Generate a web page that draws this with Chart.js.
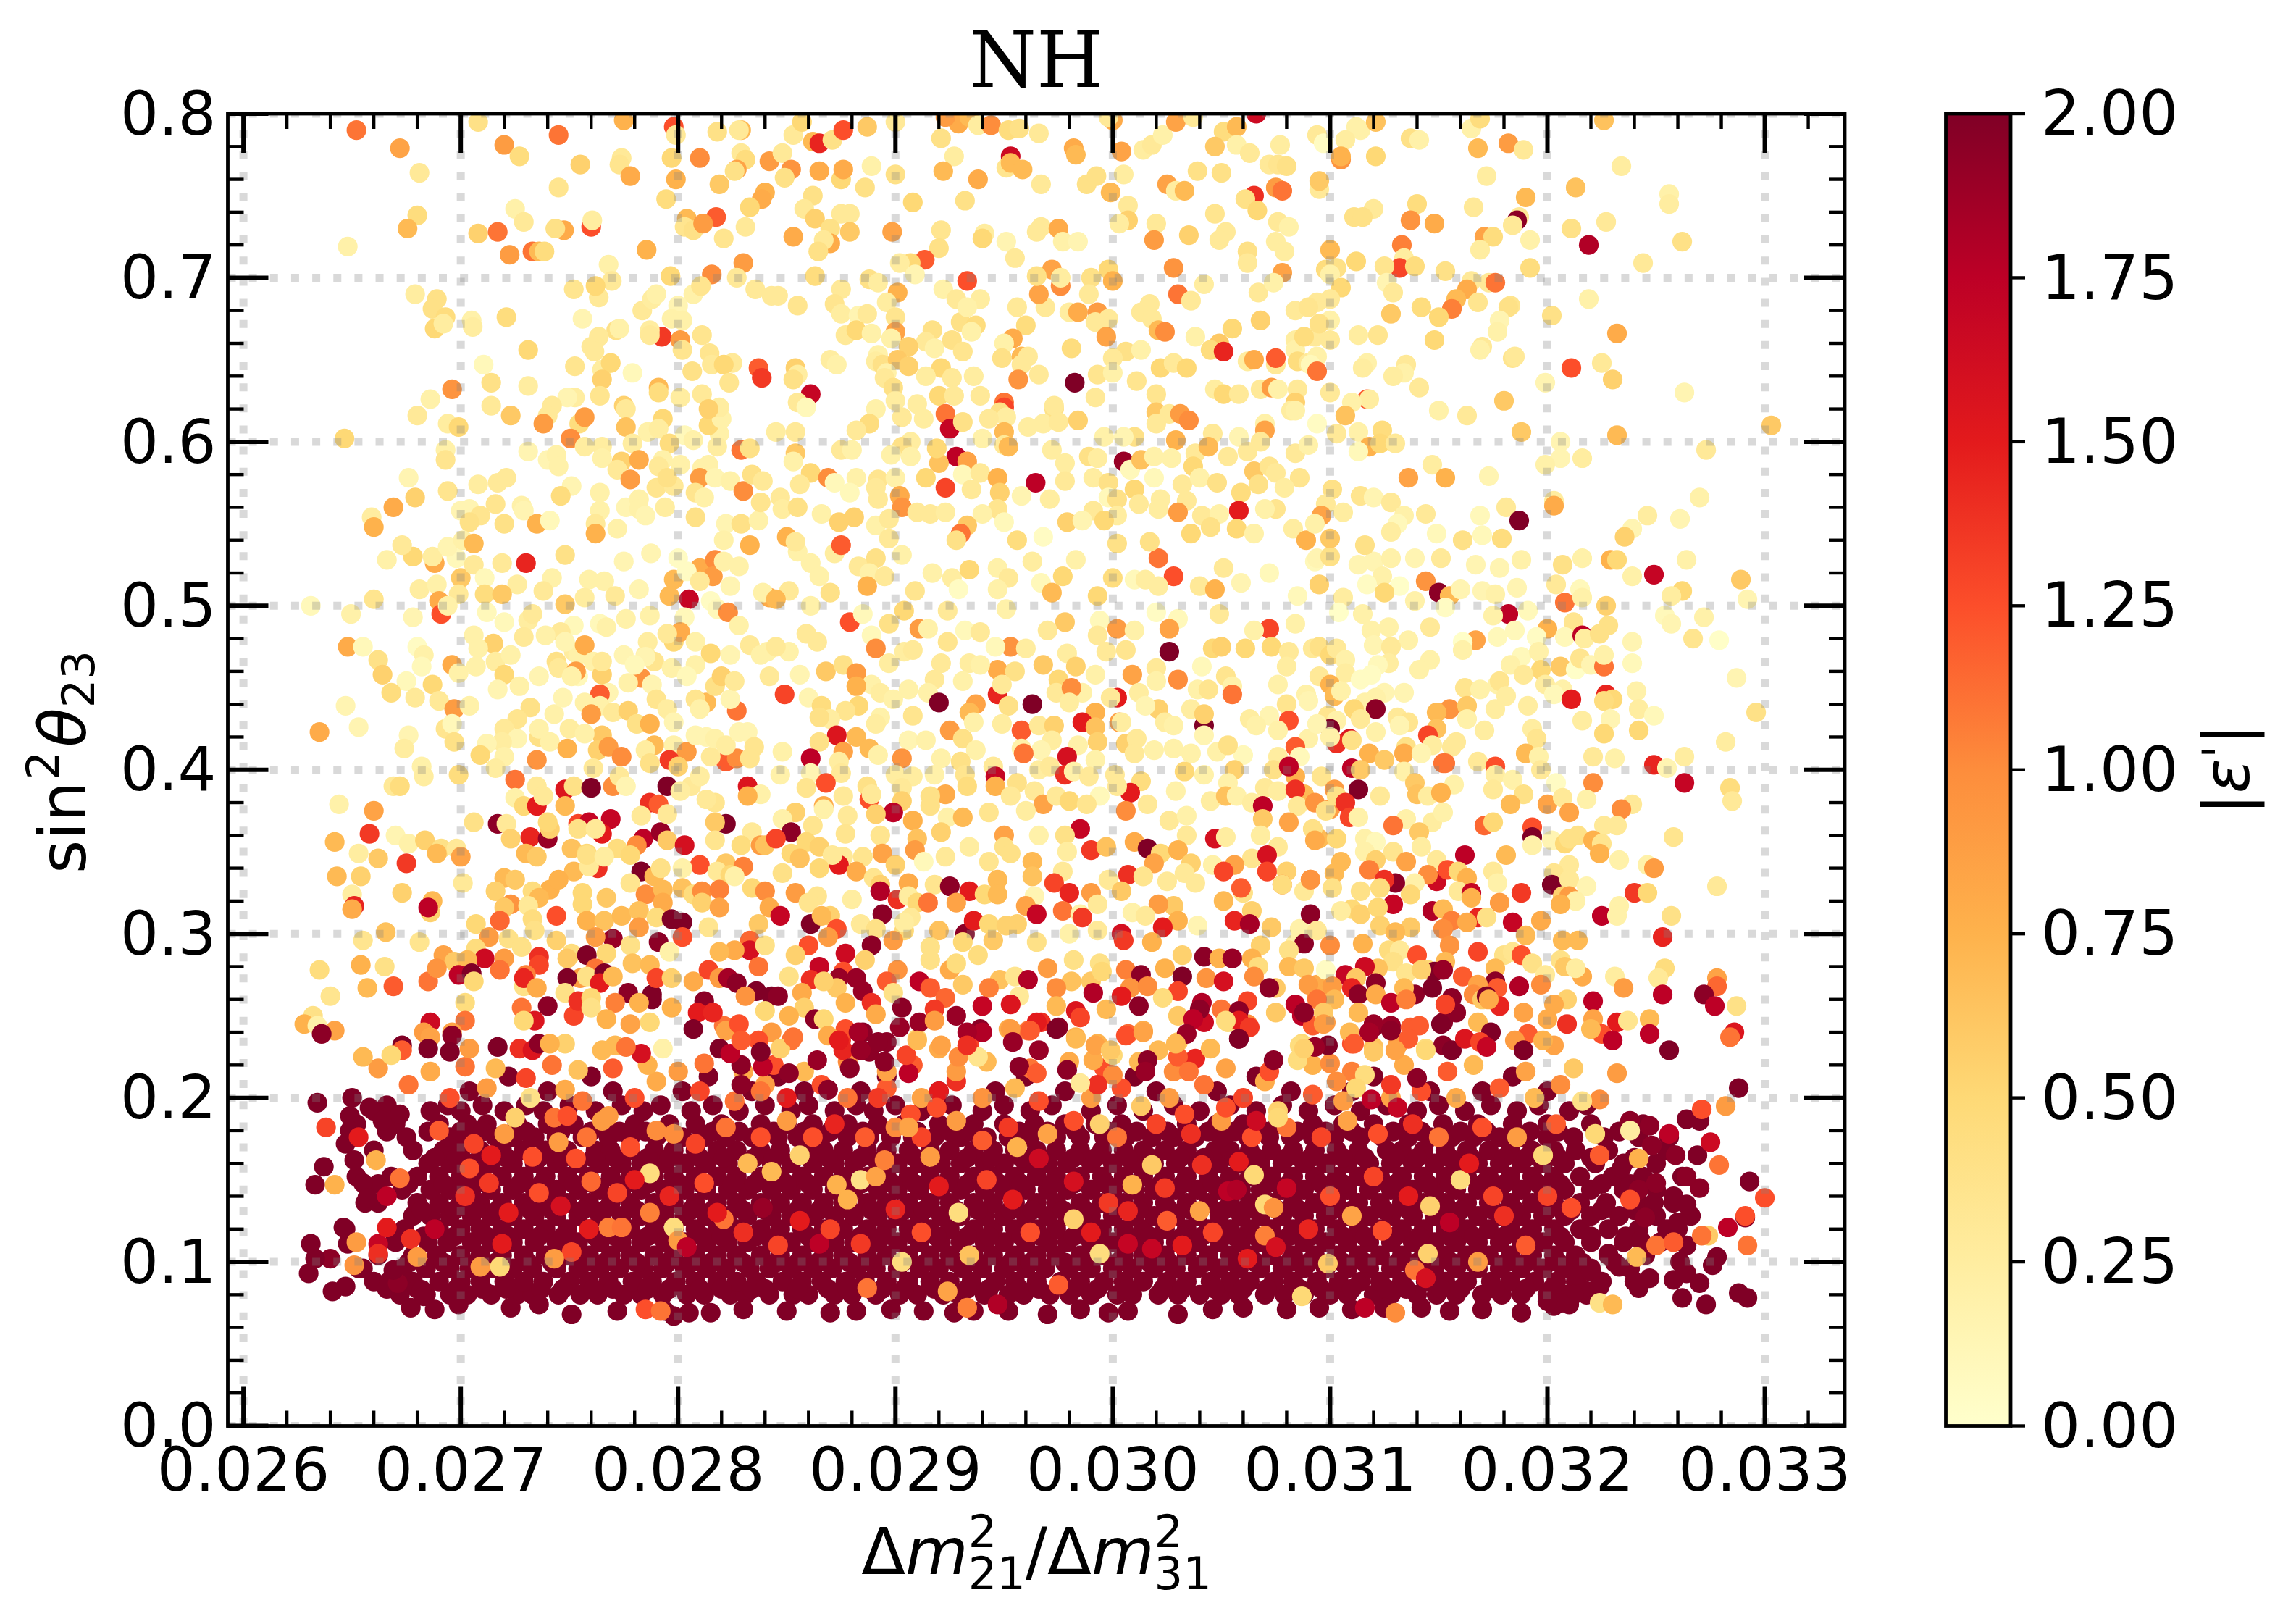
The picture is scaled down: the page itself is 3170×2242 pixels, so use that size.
<!DOCTYPE html>
<html>
<head>
<meta charset="utf-8">
<title>NH</title>
<script src="https://cdn.jsdelivr.net/npm/chart.js@4/dist/chart.umd.js"></script>
<style>
html, body { margin: 0; padding: 0; background: #fff; }
canvas { display: block; }
</style>
</head>
<body>
<canvas id="scatter" width="3170" height="2242"></canvas>
<script>
// tick positions
const xTicks = [0.026, 0.027, 0.028, 0.029, 0.030, 0.031, 0.032, 0.033];
const yTicks = [0, 0.1, 0.2, 0.3, 0.4, 0.5, 0.6, 0.7, 0.8];
const cbTicks = [0, 0.25, 0.5, 0.75, 1, 1.25, 1.5, 1.75, 2];
const xRange = [0.025928, 0.033368];
const yRange = [0, 0.8];

// YlOrRd stops
const ylOrRd = ['#ffffcc', '#ffeda0', '#fed976', '#feb24c', '#fd8d3c', '#fc4e2a', '#e31a1c', '#bd0026', '#800026'];

// dark band at the bottom, too dense to separate: y value, then x (in 1e-3) of the |eps'|=2 points
const bandY = [.08,.088,.096,.104,.112,.12,.128,.136,.144,.152,.16,.168,.176,.184,.192];
const bandX = [
[26.72,26.84,26.95,27.03,27.14,27.26,27.33,27.45,27.55,27.63,27.75,27.83,27.93,28.04,28.12,28.24,28.31,28.42,28.53,28.6,28.72,28.8,28.91,29.02,29.1,29.22,29.29,29.41,29.52,29.59,29.71,29.8,29.9,30.02,30.09,30.21,30.3,30.4,30.5,30.58,30.7,30.79,30.88,31,31.08,31.2,31.28,31.4,31.49,31.58,31.7,31.79,31.88,32,32.08,32.18],
[26.6,26.67,26.78,26.9,27,27.09,27.2,27.29,27.38,27.5,27.59,27.68,27.79,27.88,27.99,28.08,28.18,28.27,28.36,28.48,28.57,28.66,28.77,28.86,28.96,29.06,29.16,29.25,29.35,29.46,29.55,29.65,29.76,29.85,29.96,30.05,30.14,30.25,30.34,30.45,30.54,30.63,30.74,30.83,30.94,31.04,31.14,31.23,31.33,31.44,31.53,31.63,31.74,31.83,31.94,32.04,32.13,32.25],
[26.55,26.73,26.84,26.95,27.04,27.14,27.24,27.33,27.44,27.54,27.64,27.73,27.84,27.93,28.03,28.13,28.22,28.33,28.42,28.52,28.62,28.71,28.82,28.91,29.01,29.11,29.2,29.31,29.4,29.5,29.6,29.69,29.8,29.9,30,30.09,30.19,30.29,30.39,30.49,30.58,30.68,30.78,30.88,30.98,31.08,31.18,31.28,31.38,31.48,31.58,31.68,31.78,31.88,31.98,32.08,32.2,32.38],
[26.62,26.78,26.89,27,27.09,27.19,27.29,27.39,27.49,27.59,27.69,27.78,27.89,27.98,28.08,28.18,28.27,28.38,28.47,28.57,28.67,28.76,28.87,28.96,29.06,29.16,29.25,29.36,29.45,29.55,29.65,29.74,29.85,29.95,30.05,30.14,30.24,30.34,30.44,30.54,30.63,30.73,30.83,30.93,31.03,31.13,31.23,31.33,31.43,31.53,31.63,31.73,31.83,31.93,32.03,32.13,32.28,32.45],
[26.7,26.85,26.94,27.05,27.14,27.24,27.34,27.44,27.54,27.64,27.74,27.83,27.94,28.03,28.13,28.23,28.32,28.43,28.52,28.62,28.72,28.81,28.92,29.01,29.11,29.21,29.3,29.41,29.5,29.6,29.7,29.79,29.9,30,30.1,30.19,30.29,30.39,30.49,30.59,30.68,30.78,30.88,30.98,31.08,31.18,31.28,31.38,31.48,31.58,31.68,31.78,31.88,31.98,32.08,32.2,32.35,32.52],
[26.47,26.74,26.9,27,27.09,27.19,27.29,27.39,27.49,27.59,27.69,27.78,27.89,27.98,28.08,28.18,28.27,28.38,28.47,28.57,28.67,28.76,28.87,28.96,29.06,29.16,29.25,29.36,29.45,29.55,29.65,29.74,29.85,29.95,30.05,30.14,30.24,30.34,30.44,30.54,30.63,30.73,30.83,30.93,31.03,31.13,31.23,31.33,31.43,31.53,31.63,31.73,31.83,31.93,32.03,32.15,32.28,32.42,32.6],
[26.78,26.86,26.95,27.05,27.14,27.24,27.34,27.44,27.54,27.64,27.74,27.83,27.94,28.03,28.13,28.23,28.32,28.43,28.52,28.62,28.72,28.81,28.92,29.01,29.11,29.21,29.3,29.41,29.5,29.6,29.7,29.79,29.9,30,30.1,30.19,30.29,30.39,30.49,30.59,30.68,30.78,30.88,30.98,31.08,31.18,31.28,31.38,31.48,31.58,31.68,31.78,31.88,31.98,32.08,32.2,32.33,32.5,32.66],
[26.56,26.62,26.8,26.9,27,27.09,27.19,27.29,27.39,27.49,27.59,27.69,27.78,27.89,27.98,28.08,28.18,28.27,28.38,28.47,28.57,28.67,28.76,28.87,28.96,29.06,29.16,29.25,29.36,29.45,29.55,29.65,29.74,29.85,29.95,30.05,30.14,30.24,30.34,30.44,30.54,30.63,30.73,30.83,30.93,31.03,31.13,31.23,31.33,31.43,31.53,31.63,31.73,31.83,31.93,32.03,32.15,32.27,32.42,32.58],
[26.73,26.86,26.95,27.05,27.14,27.24,27.34,27.44,27.54,27.64,27.74,27.83,27.94,28.03,28.13,28.23,28.32,28.43,28.52,28.62,28.72,28.81,28.92,29.01,29.11,29.21,29.3,29.41,29.5,29.6,29.7,29.79,29.9,30,30.1,30.19,30.29,30.39,30.49,30.59,30.68,30.78,30.88,30.98,31.08,31.18,31.28,31.38,31.48,31.58,31.68,31.78,31.88,31.98,32.08,32.2,32.35,32.5],
[26.52,26.68,26.8,26.9,27,27.09,27.19,27.29,27.39,27.49,27.59,27.69,27.78,27.89,27.98,28.08,28.18,28.27,28.38,28.47,28.57,28.67,28.76,28.87,28.96,29.06,29.16,29.25,29.36,29.45,29.55,29.65,29.74,29.85,29.95,30.05,30.14,30.24,30.34,30.44,30.54,30.63,30.73,30.83,30.93,31.03,31.13,31.23,31.33,31.43,31.53,31.63,31.73,31.83,31.93,32.03,32.15,32.3,32.44,32.62],
[26.85,26.95,27.05,27.14,27.24,27.34,27.44,27.54,27.64,27.74,27.83,27.94,28.03,28.13,28.23,28.32,28.43,28.52,28.62,28.72,28.81,28.92,29.01,29.11,29.21,29.3,29.41,29.5,29.6,29.7,29.79,29.9,30,30.1,30.19,30.29,30.39,30.49,30.59,30.68,30.78,30.88,30.98,31.08,31.18,31.28,31.38,31.48,31.58,31.68,31.78,31.88,31.98,32.08,32.22,32.35,32.5],
[26.6,26.78,26.92,27,27.09,27.19,27.29,27.39,27.49,27.62,27.69,27.78,27.89,27.98,28.08,28.18,28.27,28.38,28.47,28.6,28.67,28.76,28.87,28.96,29.06,29.16,29.25,29.36,29.45,29.55,29.65,29.74,29.85,29.95,30.05,30.14,30.24,30.34,30.47,30.54,30.63,30.73,30.83,30.93,31.03,31.13,31.26,31.33,31.43,31.53,31.63,31.73,31.83,31.93,32.03,32.13,32.28,32.55],
[26.5,26.75,26.95,27.06,27.16,27.24,27.34,27.44,27.56,27.68,27.78,27.9,28.02,28.12,28.22,28.34,28.46,28.55,28.66,28.78,28.88,28.98,29.08,29.18,29.3,29.42,29.52,29.62,29.74,29.85,29.96,30.06,30.18,30.28,30.38,30.5,30.62,30.72,30.82,30.92,31.02,31.14,31.24,31.36,31.46,31.56,31.66,31.78,31.88,32,32.12,32.26,32.42,32.56],
[26.52,26.7,26.9,27.03,27.12,27.26,27.4,27.52,27.66,27.8,27.96,28.08,28.2,28.38,28.5,28.62,28.78,28.92,29.04,29.2,29.36,29.5,29.64,29.78,29.92,30.04,30.2,30.34,30.48,30.6,30.76,30.92,31.06,31.2,31.36,31.52,31.68,31.84,32,32.2,32.44],
[26.6,26.86,27,27.2,27.38,27.62,27.84,28.06,28.28,28.52,28.72,28.9,29.12,29.4,29.62,29.9,30.14,30.4,30.66,30.9,31.14,31.4,31.62,31.86,32.1]
];

// second, looser layer of the same band, it closes the pinholes
const fillY = [.0835,.0995,.1155,.1315,.1475,.1635,.1795,.1955,.204,.213];
const fillX = [
[26.66,26.8,26.98,27.1,27.21,27.37,27.47,27.61,27.7,27.86,27.96,28.1,28.2,28.34,28.4,28.55,28.69,28.78,28.94,29.04,29.18,29.33,29.43,29.57,29.66,29.82,29.93,30.07,30.23,30.32,30.47,30.6,30.71,30.86,30.96,31.1,31.26,31.35,31.51,31.6,31.76,31.9,32.02,32.16],
[26.76,26.92,27.07,27.16,27.31,27.42,27.57,27.66,27.81,27.95,28.06,28.15,28.3,28.45,28.55,28.64,28.79,28.89,29.03,29.14,29.28,29.38,29.53,29.62,29.78,29.87,30.02,30.17,30.26,30.42,30.56,30.66,30.81,30.9,31.06,31.16,31.31,31.4,31.56,31.66,31.81,31.9,32.05,32.16,32.31],
[26.7,26.83,26.97,27.12,27.22,27.36,27.47,27.62,27.71,27.86,27.96,28.11,28.2,28.36,28.45,28.6,28.7,28.84,28.94,29.09,29.19,29.33,29.43,29.58,29.67,29.82,29.93,30.07,30.17,30.32,30.41,30.56,30.66,30.81,30.91,31.06,31.16,31.3,31.41,31.55,31.66,31.8,31.9,32.06,32.2,32.36],
[26.82,26.97,27.07,27.17,27.32,27.42,27.56,27.66,27.81,27.91,28.06,28.16,28.3,28.4,28.55,28.65,28.79,28.89,29.04,29.13,29.28,29.38,29.53,29.63,29.77,29.87,30.02,30.12,30.26,30.36,30.51,30.61,30.76,30.86,31.01,31.1,31.25,31.36,31.5,31.6,31.75,31.85,32,32.11,32.25,32.4],
[26.62,26.76,26.92,27.02,27.12,27.27,27.37,27.52,27.61,27.76,27.86,28.01,28.11,28.25,28.35,28.5,28.6,28.74,28.84,28.99,29.09,29.23,29.33,29.48,29.58,29.72,29.82,29.97,30.07,30.22,30.32,30.46,30.56,30.71,30.81,30.96,31.06,31.2,31.3,31.45,31.55,31.7,31.8,31.96,32.06,32.25,32.38],
[26.88,26.98,27.1,27.21,27.36,27.47,27.61,27.71,27.86,27.96,28.1,28.21,28.35,28.44,28.6,28.69,28.84,28.95,29.09,29.18,29.33,29.44,29.58,29.67,29.82,29.92,30.07,30.17,30.31,30.42,30.56,30.66,30.8,30.91,31.06,31.16,31.3,31.4,31.55,31.65,31.8,31.9,32.05,32.2,32.4],
[26.66,26.85,27,27.1,27.3,27.46,27.6,27.73,27.85,27.97,28.16,28.28,28.44,28.58,28.7,28.85,28.98,29.1,29.25,29.34,29.57,29.7,29.83,29.98,30.11,30.25,30.44,30.56,30.7,30.85,30.98,31.1,31.29,31.42,31.6,31.72,31.92,32.05,32.33],
[26.66,26.94,27.1,27.3,27.5,27.74,27.92,28.16,28.4,28.6,28.82,29,29.26,29.5,29.72,30.02,30.28,30.54,30.78,31.02,31.26,31.5,31.74,31.96,32.18],
[27.04,27.4,27.7,28.02,28.34,28.58,28.84,29.2,29.46,29.78,30.2,30.48,30.82,31.1,31.46,31.7,32],
[27.22,27.6,28.14,28.46,28.96,29.6,30.1,30.66,31.2,31.84]
];

// x (in 1e-3), sin^2, |eps'|
const bandEdge = [
26.77,.072,2,26.88,.071,2,26.99,.074,2,26.82,.083,2,27.23,.072,2,27.36,.074,2,27.51,.068,2,27.72,.07,2,27.94,.07,2,27.98,.067,2,28.05,.069,2,28.15,.069,2,28.3,.071,2,28.5,.07,2,28.7,.069,2,28.82,.07,2,28.98,.071,2,29.13,.07,2,29.27,.069,2,29.36,.07,2,29.52,.07,2,29.7,.068,2,29.85,.071,2,29.98,.069,2,30.07,.07,2,30.3,.068,2,30.46,.071,2,30.6,.072,2,30.8,.071,2,30.95,.072,2,31.1,.071,2,31.25,.072,2,31.42,.072,2,31.55,.07,2,31.7,.071,2,31.88,.069,2,32.03,.073,2,32.1,.074,2,
26.34,.197,2,26.5,.2,2,26.49,.189,2,26.58,.194,2,26.64,.186,2,26.72,.19,2,26.49,.18,2,26.47,.172,2,26.51,.162,2,26.37,.158,2,26.33,.147,2,26.55,.148,2,26.57,.139,2,26.66,.14,1.75,26.46,.121,2,26.31,.111,2,26.4,.102,1.95,26.3,.093,2,26.33,.102,2,26.48,.111,2,26.62,.111,1.7,26.53,.096,2,26.71,.087,1.95,26.69,.095,2,26.41,.082,2,26.47,.085,2,26.83,.079,2,
32.93,.149,2,32.91,.127,1.95,32.7,.145,1.95,32.64,.152,1.95,32.38,.186,1.95,32.47,.183,1.95,32.7,.186,2,32.64,.187,2,32.48,.171,1.95,32.59,.165,1.95,32.69,.165,2,32.88,.206,2,32.42,.144,1.95,32.5,.148,1.95,32.34,.157,2,32.58,.14,2,32.64,.135,2,32.49,.136,2,32.45,.127,1.95,32.55,.12,2,32.6,.124,2,32.64,.11,2,32.43,.113,2,32.78,.103,2,32.76,.098,2,32.61,.1,2,32.28,.105,2,32.33,.097,2,32.14,.092,2,32.2,.094,2,32.4,.088,2,32.47,.09,2,32.42,.084,2,32.58,.089,2,32.64,.093,2,32.7,.087,2,32.73,.074,2,32.62,.078,2,32.88,.081,2,32.92,.078,2,32.2,.082,2,32.24,.085,2,32.12,.08,2,32.06,.075,2,32,.076,2];

const bandAccents = [
26.38,.182,1.3,26.53,.176,1.5,26.61,.162,.75,26.42,.147,.75,26.72,.151,1.1,26.66,.121,1.5,26.52,.112,.9,26.62,.105,1.4,26.51,.098,.95,26.77,.114,1.4,26.8,.103,.9,27.04,.157,1.25,27.14,.165,1.5,27.13,.148,1.35,27.33,.164,1.25,27.53,.163,1.25,27.6,.149,1.15,27.45,.173,.9,27.65,.186,.9,27.32,.2,.4,27.68,.121,1.05,27.74,.121,1.1,27.59,.12,1.5,27.51,.106,1.3,27.43,.102,.9,27.98,.121,.45,27.87,.154,.45,28,.113,.9,28.04,.109,1.75,27.18,.097,.5,27.09,.097,.9,27.19,.111,1.5,26.88,.12,1.75,27.98,.178,1,27.25,.188,.55,27.43,.188,1.1,27.49,.189,1.25,27.68,.189,.9,27.87,.13,1.05,27.85,.071,1.25,27.92,.07,1.1,
28.56,.165,.55,28.32,.16,.7,28.43,.155,.7,28.73,.147,.75,28.84,.15,.4,28.91,.152,.85,28.78,.138,.75,29.16,.164,.9,29.56,.17,.75,29.29,.13,.45,29.94,.184,.55,30.09,.147,.75,30.18,.159,.6,29.82,.126,.55,30.4,.131,.85,30.25,.125,1.2,29.98,.136,1.35,30.07,.131,1.45,29.94,.105,.45,29.34,.104,.65,29.03,.1,.45,29.24,.082,.85,29.33,.072,1.05,29.75,.086,1.2,29.47,.074,1.8,28.87,.084,1.1,30.87,.079,.5,30.99,.099,.6,31.3,.069,1,31.16,.072,1.75,30.7,.135,.5,30.74,.133,.95,30.7,.116,1.05,30.75,.109,1.6,31.46,.134,.55,31.1,.128,.85,31.24,.119,1.25,31.39,.095,1.1,31.44,.09,1.6,28.65,.111,1.75,28.84,.111,1.35,28.39,.133,1.9,30.53,.143,1.75,30.41,.159,1.4,30.58,.161,1.5,30.65,.153,.5,29.82,.149,1.6,29.66,.163,1.65,30.18,.108,1.7,30.07,.111,1.7,30.8,.145,1.7,30.57,.144,1.8,28.95,.162,1.05,28.21,.126,1.1,
31.55,.124,1.75,31.6,.15,.45,31.64,.16,1.5,31.75,.14,1.3,31.9,.11,1.2,31.68,.1,.9,31.45,.105,.55,31.98,.165,.5,32.11,.133,1.25,32.22,.178,.5,32.38,.18,.25,32.24,.199,1,32.16,.198,.4,32.42,.163,.75,32.24,.165,1.2,32.38,.138,1.25,32.41,.103,.7,32.5,.11,1.1,32.58,.112,1.2,32.74,.116,.6,32.71,.116,1.1,32.24,.075,.4,32.3,.074,.7,33,.139,1.25,32.91,.128,1.25,32.83,.121,1.75,32.92,.11,1.1,32.75,.173,1.65,32.79,.159,1.1,32.56,.178,1.75,32.82,.195,.9,32.71,.193,1.25,
27.02,.14,1.4,27.22,.13,1.5,27.36,.142,1.25,27.46,.134,1.6,27.72,.142,1.3,27.8,.15,1.5,27.96,.14,1.45,28.12,.148,1.25,28.18,.13,1.5,28.3,.118,1.4,28.46,.11,1.3,28.56,.125,1.5,28.7,.12,1.3,29,.132,1.45,29.12,.118,1.25,29.2,.146,1.5,29.42,.15,1.3,29.54,.138,1.5,29.62,.118,1.25,29.9,.118,1.5,30.24,.145,1.35,30.32,.11,1.5,30.46,.118,1.3,30.62,.102,1.5,30.9,.12,1.45,31,.14,1.25,31.2,.152,1.3,31.36,.14,1.5,31.8,.128,1.4,32,.14,1.3,
26.9,.18,1.2,27.06,.172,1.3,27.2,.178,.9,27.58,.176,1.1,27.78,.17,1.25,27.9,.18,1,28.08,.172,1.3,28.22,.182,1.1,28.38,.176,1.25,28.5,.186,.9,28.62,.176,1.25,28.72,.184,1.45,28.86,.176,1.2,29,.182,1,29.12,.176,1.3,29.28,.186,.9,29.4,.174,1.2,29.52,.182,1.35,29.7,.178,.85,29.82,.186,1.25,30.02,.176,1.1,30.2,.184,1.3,30.36,.178,1.4,30.5,.186,.9,30.64,.176,1.25,30.8,.182,1.1,30.96,.176,1.3,31.08,.186,.85,31.22,.178,1.25,31.38,.184,1.4,31.5,.176,1.1,31.7,.182,1.25,31.86,.176,.9,32.04,.184,1.2,
26.76,.208,1.1,26.95,.2,1.25,27.12,.206,.9,27.3,.212,1.3,27.48,.205,.8,27.56,.198,1.1,27.8,.2,1.25,27.9,.21,.8,28.1,.204,1.3,28.26,.198,1.1,28.4,.208,.9,28.5,.2,1.5,28.66,.208,1.25,28.78,.2,1.1,28.96,.206,1.2,29.12,.2,.85,29.28,.21,1.4,29.4,.2,.95,29.55,.206,.7,29.66,.198,1.25,29.9,.2,.9,30.04,.206,1.25,30.26,.2,.9,30.42,.208,1.1,30.6,.2,1.3,30.7,.21,.8,30.92,.202,1.2,31.06,.198,.9,31.28,.2,.85,31.42,.204,1.25,31.58,.2,.8,31.78,.206,1.2,31.94,.2,.7,32.06,.208,1,
26.62,.218,.9,26.86,.216,.8,27.02,.219,1.1,27.16,.218,.7,27.42,.22,1.1,27.54,.217,.65,27.7,.218,1.2,27.86,.22,.75,28,.216,.9,28.12,.221,1.1,28.3,.216,.8,28.44,.22,1.25,28.58,.216,.7,28.78,.222,1,28.96,.216,.85,29.08,.22,1.2,29.28,.216,.9,29.42,.222,.7,29.62,.218,1.1,29.8,.222,.8,29.96,.218,1.25,30.12,.222,.7,30.28,.216,1,30.52,.218,.85,30.72,.216,1.25,30.92,.22,.75,31.1,.216,1.05,31.34,.22,.8,31.54,.216,1.2,31.66,.22,.7,31.9,.216,.85,32.12,.218,.6,32.32,.215,.9];

const lowerMid = [
28.21,.244,1.1,28.43,.24,.9,28.52,.235,1.1,28.75,.235,1.4,28.47,.23,.55,28.85,.24,1.95,28.96,.234,1.95,28.64,.223,1.9,28.76,.229,1.45,28.88,.228,1.95,28.29,.22,1.95,28.39,.219,1.75,28.51,.215,1.95,28.79,.218,1.95,28.69,.205,1.95,28.29,.208,1.95,29.06,.215,1.75,29.05,.226,1.3,28.95,.222,1.95,28.38,.204,1.1,29.2,.204,1.5,29.19,.194,1.25,28.92,.2,1.35,29.07,.19,1.25,29.06,.182,.85,
29.2,.23,.8,29.1,.236,.5,29.39,.242,1.95,29.34,.233,1.3,29.29,.225,1,29.38,.225,.35,29.57,.219,1.95,29.79,.217,1.95,29.65,.215,1.2,29.52,.242,.8,29.61,.241,1.1,29.75,.243,1.95,29.83,.237,.75,29.67,.246,1.4,29.93,.233,.75,30.07,.239,1.15,30.14,.241,.8,30,.226,.5,29.91,.223,.8,30.21,.229,.7,30.3,.234,.6,30.53,.246,.45,30.58,.236,1.95,30.38,.224,1.45,30.16,.223,1.95,30.3,.225,1.2,30.42,.246,1.65,30.62,.245,1,30.35,.216,1.1,30.0,.214,1,30.15,.216,1.9,29.93,.208,1.4,29.85,.209,.3,30.13,.195,.6,
30.87,.233,.5,30.85,.223,.45,30.74,.223,1.95,30.98,.246,.9,31.2,.243,1.95,31.28,.244,1.9,31.1,.233,1.25,31.2,.231,.65,31.31,.232,.9,31.44,.23,.45,31.37,.243,1.2,31.52,.246,1.95,31,.221,1,31.16,.214,.45,31.03,.21,1,31.28,.208,1.35,31.12,.206,.5,31.19,.199,1.75,31.4,.212,1.95,31.31,.194,1.7,30.76,.192,.55,30.76,.188,.5,30.52,.194,1.25,30.33,.19,1.25,30.66,.186,1.65];

const midLeft = [
26.66,.528,.2,26.78,.53,.5,26.88,.526,.8,26.87,.53,.25,27.3,.526,1.45,27.48,.531,.4,26.98,.529,.1,27,.517,.6,27.06,.525,.3,27.11,.517,.1,27.19,.526,.3,27.26,.513,.25,27.42,.517,.2,27.38,.509,.3,26.81,.51,.25,26.89,.513,.2,27.11,.507,.45,27.19,.507,.6,26.9,.503,.8,26.99,.507,.3,26.31,.5,.1,26.495,.495,.2,26.6,.504,.35,26.91,.495,1.25,26.78,.493,.15,26.94,.5,.2,27.12,.496,.1,27.2,.49,.1,27.31,.491,.25,27.33,.495,.3,27.48,.501,.6,27.59,.516,.2,27.57,.505,.25,27.66,.515,.2,27.71,.506,.3,27.75,.527,.15,27.82,.51,.15,27.875,.532,.15,28,.529,.05,28.1,.523,.8,28.17,.528,1,28.16,.518,.9,28.21,.527,.2,28.28,.524,.2,27.98,.516,.7,28.04,.521,.05,28.1,.515,.3,28.05,.504,1.7,28.42,.505,.8,28.39,.508,.2,28.24,.512,.15,27.96,.506,.7,28.15,.503,.05,28.18,.498,.1,28.23,.496,1,28.03,.493,.1,27.87,.494,.2,27.76,.492,.2,27.64,.489,.1,27.67,.487,.2,27.52,.488,.1,27.46,.484,.3,27.39,.482,.2,27.29,.481,.3,27.06,.482,.2,27.15,.477,.55,27.08,.474,.2,26.48,.475,.8,26.55,.475,.1,26.8,.475,.05,26.83,.47,.2,26.62,.467,.4,26.64,.458,.55,26.82,.463,.1,26.96,.464,.8,26.99,.459,.2,27.07,.463,.2,27.16,.466,.25,27.23,.47,.2,27.2,.458,.5,27.27,.451,.2,27.17,.449,.15,27.36,.457,.15,26.75,.454,.1,26.87,.452,.5,26.68,.447,.45,26.79,.444,.3,26.9,.442,.3,26.97,.437,.9,27.04,.439,.2,26.47,.439,.15,26.53,.426,.15,26.35,.423,.8,26.76,.421,.15,26.74,.413,.25,26.93,.425,.35,26.96,.428,.1,26.97,.417,.4,27.32,.438,.4,27.26,.431,.35,27.2,.425,.3,27.26,.419,.15,27.19,.417,.25,27.12,.416,.15,27.09,.409,.5,27.2,.408,.2,27.35,.406,.95,27.36,.42,.4,27.41,.417,.2,27.36,.425,.2,27.43,.434,.2,27.5,.425,.25,27.47,.444,.15,27.54,.457,.1,27.52,.472,.25,27.54,.47,.2,27.44,.466,.4,27.45,.462,.3,27.48,.478,.15,27.57,.476,.8,27.61,.466,.2,27.65,.458,.55,27.65,.466,.3,27.53,.46,.9,27.51,.457,.2,27.68,.447,.15,27.64,.446,1.2,27.57,.441,.2,27.64,.439,.2,27.6,.434,.9,27.7,.435,.3,27.77,.436,.55,27.83,.456,.95,27.77,.453,.2,27.88,.452,.15,27.9,.443,.35,27.95,.437,.25,27.81,.428,.4,27.87,.428,.75,27.98,.429,.15,27.65,.421,.6,27.57,.422,.2,27.63,.412,.55,27.68,.414,.9,27.74,.408,1,27.49,.413,.75,27.61,.401,.3,27.89,.415,.7,27.85,.412,.25,27.98,.415,.2,28.04,.411,.9,27.96,.406,1.35,28,.402,.55,27.87,.404,.4,28.22,.405,1.2,28.27,.407,1,28.15,.408,.3,28.08,.421,.15,28.13,.42,.15,28.17,.419,.2,28.22,.415,.25,28.28,.423,.15,28.32,.423,.15,28.35,.414,.35,28.33,.407,.35,28.27,.436,1.1,28.24,.443,.15,28.13,.441,.7,28.08,.443,.35,28.1,.437,.2,28.17,.451,.4,28.2,.457,.55,28.26,.454,.3,27.98,.478,.5,28.01,.484,.8,28.08,.478,.2,28.15,.471,.5,27.86,.478,.25,27.85,.47,.25,27.89,.466,.35,27.85,.469,.15,27.75,.47,.15,27.8,.464,.1,27.97,.462,.2,28.08,.464,.2,28.04,.457,.1,27.95,.483,.3,28.24,.47,.15,28.33,.476,.3,28.38,.47,.2,28.28,.488,.2,28.41,.472,.2,28.42,.457,.3,
26.82,.402,.2,26.83,.396,.25,26.99,.397,.45,27.16,.401,.25,27.25,.394,1.1,26.69,.39,.3,26.72,.39,.45,26.44,.379,.2,26.6,.375,.85,26.58,.361,1.35,26.7,.36,.15,26.76,.355,.2,26.42,.356,.7,26.53,.349,.25,26.62,.346,.6,26.835,.357,.55,26.91,.352,.4,26.89,.349,.7,26.98,.352,.3,27,.347,.85,26.75,.343,1.35,27.06,.368,.4,26.43,.335,.7,26.54,.335,.55,27.01,.331,.3,26.5,.324,.25,26.51,.317,1.45,26.5,.315,.8,26.73,.325,.55,26.87,.32,.7,26.86,.313,.55,26.85,.316,1.75,26.655,.301,.65,26.55,.296,.35,26.81,.295,.35,
27.35,.39,.3,27.48,.388,1.55,27.52,.39,.4,27.6,.389,2,27.25,.383,.2,27.29,.378,.5,27.35,.378,1.5,27.38,.384,.3,27.48,.378,.7,27.17,.367,1.95,27.21,.367,.3,27.23,.358,.55,27.32,.359,1.45,27.4,.358,1.9,27.41,.364,.55,27.4,.368,.5,27.3,.349,.7,27.35,.347,.6,27.54,.367,1.3,27.59,.368,1.7,27.54,.364,.4,27.69,.37,1.7,27.65,.361,1.5,27.62,.364,.3,27.84,.358,1.75,27.92,.362,1.9,27.95,.357,.6,27.72,.352,.45,27.81,.354,1,27.78,.348,.5,27.51,.352,.65,27.58,.349,.5,28.03,.354,1.6,28.22,.367,2,28.17,.368,.6,28.17,.357,.35,28.34,.362,.3,28.29,.354,.45,28.38,.354,.9,28.4,.354,.65,27.87,.38,1.4,27.83,.372,.3,27.95,.39,2,27.91,.379,1.2,27.95,.373,.3,27.7,.39,1,27.73,.396,.3,27.76,.39,.15,28.32,.39,1.55,28.38,.385,.2,28.32,.384,.75,28.17,.38,.35,28.13,.382,.3,28.06,.39,.3,28.01,.387,.25,28.1,.396,.25,27.83,.338,2,27.89,.335,.7,27.92,.34,.4,27.78,.331,.35,27.52,.338,.7,27.63,.34,1.4,27.59,.341,.3,27.58,.348,.4,27.66,.347,.25,28.1,.342,1.25,28.02,.34,.2,28.22,.343,.6,28.3,.341,1.05,28.18,.338,.3,28.24,.336,.5,28.26,.335,.2,27.2,.334,.7,27.25,.333,.6,27.41,.327,.75,27.45,.333,.75,27.16,.326,.55,27.33,.326,.45,27.36,.322,.7,27.56,.325,.5,27.56,.318,.5,27.67,.322,.6,27.85,.324,1,27.93,.327,.7,27.93,.319,.8,28.02,.328,.65,28.07,.324,.45,28.11,.326,1,28.19,.327,1.05,28.11,.319,.55,28.19,.316,.85,28.34,.328,.5,28.4,.326,1,28.42,.316,.8,27.23,.318,.95,27.31,.317,.3,27.2,.316,.6,27.18,.308,1.15,27.44,.311,1.25,27.07,.306,.5,27.33,.309,.45,27.34,.302,.4,27.58,.308,.75,27.66,.308,.65,27.74,.311,.7,27.82,.314,.65,27.9,.31,.45,27.82,.304,.9,28.02,.307,2,27.97,.309,2,28.14,.304,.35,28.37,.306,.6,28.33,.296,1.15,28.02,.298,1.25,27.7,.297,1.9,27.91,.295,1.95,27.96,.289,.2,27.78,.293,.4,27.13,.298,.9,27.22,.297,.4,27.28,.292,.4,27.07,.291,.45,27.11,.285,1.65,27.44,.296,.55,27.51,.288,.45,27.49,.285,.6,27.58,.287,2,27.67,.288,.5,27.62,.298,.9,26.92,.287,.85,26.97,.283,.6,27.03,.284,.7,26.54,.281,.75,26.65,.28,.4,26.35,.278,.45,26.57,.267,.7,26.69,.268,1.2,26.4,.262,.35,26.85,.271,1.1,26.89,.279,.95,26.99,.275,1.75,27.05,.276,2,27.06,.271,.5,27.02,.258,.45,27.2,.285,.9,27.18,.278,1.1,27.29,.268,.4,27.36,.286,1.4,27.36,.281,1.3,27.3,.275,1.05,27.29,.273,1.45,27.35,.267,.8,27.62,.279,1.1,27.55,.273,.9,27.58,.274,.4,27.49,.273,2,27.66,.276,2,27.64,.27,1.5,27.7,.274,.7,27.77,.264,1.95,27.79,.282,.65,27.87,.281,.7,27.88,.263,2,27.88,.26,2,27.9,.273,1.3,27.97,.273,.55,28.07,.271,.8,28.14,.278,1.3,28.19,.273,.9,28.23,.273,1.85,28.27,.27,1.95,28.33,.29,1.6,28.37,.28,1.1,28.4,.293,.4,28.26,.29,.8,28.19,.289,.7,28.36,.265,2,28.43,.262,2,28.31,.262,.95,28.4,.253,.5,28.12,.259,1.95,28.09,.252,1.5,28.16,.252,1.45,27.4,.256,1.95,27.28,.255,1.1,27.48,.264,.4,27.34,.247,1.55,27.29,.247,.5,27.52,.25,1.3,27.54,.259,1.4,27.6,.261,.5,27.71,.258,1.05,27.6,.255,.4,27.67,.248,.75,27.82,.258,.75,27.87,.246,.5,27.78,.245,.85,27.97,.255,.75,28.07,.242,2,28.22,.241,.85,28.28,.245,1.25,
26.86,.246,1.65,27.02,.247,1.1,26.83,.24,.9,26.86,.237,.85,26.96,.24,.85,26.96,.238,1.95,26.32,.25,.4,26.28,.245,.75,26.34,.244,.2,26.42,.241,.85,26.36,.239,1.95,26.73,.232,2,26.73,.229,1.2,26.85,.23,2,26.95,.228,2,26.55,.225,.7,27.17,.231,2,27.04,.23,.9,26.68,.226,.5,27.27,.23,1.4,27.33,.229,1.55,27.36,.233,1.95,27.48,.233,.55,27.41,.233,.75,27.71,.232,.7,27.65,.229,.7,27.93,.23,.2,27.83,.227,1.6,27.76,.231,1.1,28.19,.23,2,28.24,.227,1.75,28.37,.235,1.25,28.29,.235,1.2,28.38,.228,2];

const midMid = [
28.55,.533,.2,28.61,.526,.2,28.65,.518,.2,28.72,.532,.25,28.83,.524,.3,28.91,.529,.4,28.88,.52,.2,28.95,.518,.3,29.03,.531,.2,29.17,.52,.2,29.26,.517,.25,29.34,.522,.5,29.47,.523,.2,29.52,.517,.3,29.63,.527,.25,29.77,.518,.5,29.67,.514,.1,29.83,.528,.2,30,.517,.45,30.1,.516,.1,30.21,.529,1.1,30.28,.518,1.25,30.15,.516,.25,30.21,.512,.25,30.4,.512,.3,30.51,.523,.3,30.47,.51,.75,30.59,.514,.15,30.72,.52,.1,30.85,.506,.1,30.93,.527,.1,
28.51,.509,.3,28.7,.508,.4,28.87,.512,.75,29.09,.509,.35,29.29,.51,.05,29.47,.51,.2,29.72,.508,.7,29.93,.506,.5,28.45,.504,.7,28.61,.5,.2,28.79,.49,1.25,28.85,.495,.1,28.97,.489,.4,29.04,.497,.5,29.24,.497,.3,29.51,.498,.2,29.78,.49,.6,29.94,.491,.1,30.2,.496,.05,30.3,.492,.1,30.72,.486,1.3,30.84,.489,.2,30.49,.495,.3,
28.59,.483,.3,28.64,.478,.3,28.89,.482,.1,29.11,.486,.9,29.15,.486,.2,29.24,.478,.35,29.32,.485,.1,29.39,.484,.3,29.7,.485,.3,30.02,.486,.9,30.26,.486,.85,30.1,.485,.2,30.65,.485,.2,30.46,.474,.5,
28.91,.474,1,29.04,.472,.25,29.08,.473,.3,29.53,.475,.95,29.46,.475,.1,29.6,.474,.25,29.93,.482,.3,30.06,.473,.35,30.26,.472,2,30.5,.475,.55,30.61,.474,.5,30.73,.475,.5,30.81,.472,.3,30.92,.474,.3,28.51,.472,.2,28.45,.475,.3,29.79,.471,.25,29.97,.472,.3,28.97,.465,.25,29.21,.465,.3,29.34,.465,.25,29.68,.464,.6,29.83,.463,.55,29.47,.461,.8,29.55,.46,.4,29.39,.464,.2,28.68,.46,.6,28.76,.464,.4,28.82,.459,.9,28.56,.458,.15,30.09,.458,.85,30.2,.462,.3,30.41,.463,.1,30.3,.455,1,30.52,.457,.35,30.8,.463,.25,
28.89,.452,.2,29.18,.455,.3,29.31,.454,.2,28.82,.451,.75,29.75,.455,.5,29.92,.458,.2,29.47,.446,1.45,29.49,.452,.3,29.74,.447,.3,29.86,.447,.2,29.81,.45,1,30.02,.444,1.5,29.99,.444,.3,30.12,.447,.25,30.2,.454,.2,30.39,.449,.2,30.55,.451,.2,30.55,.446,1.1,30.44,.449,.35,30.76,.452,.2,30.89,.446,.2,
28.49,.446,1.3,28.6,.444,.15,29.06,.449,.2,28.93,.447,.25,28.99,.443,.2,29.15,.447,.2,28.66,.439,.45,28.83,.439,.5,29.2,.441,2,29.63,.44,2,29.37,.44,.85,29.52,.439,.4,29.8,.441,.25,30.21,.437,.55,30.15,.439,.15,30.36,.437,.25,30.8,.44,.35,
28.77,.436,.35,29.08,.433,.35,28.7,.431,.25,28.65,.432,.4,28.93,.432,.2,28.91,.428,.25,29.34,.435,.7,29.36,.429,.2,29.49,.428,.25,29.92,.435,.75,29.86,.429,1.5,30.03,.429,.9,30.04,.429,.25,30.24,.429,.25,30.28,.427,.2,30.42,.427,2,30.42,.434,.55,30.63,.431,.25,30.72,.433,.15,30.81,.43,1.25,30.9,.442,.15,
28.73,.421,1.55,28.82,.42,.7,29.25,.424,.9,29.31,.419,.4,29.58,.424,1.2,29.66,.427,.3,29.73,.427,.55,29.92,.426,.65,30.42,.421,.15,30.66,.427,.2,30.76,.424,.2,
28.65,.417,.4,29.06,.418,.15,29.14,.418,.2,29.21,.407,.2,29.37,.412,.2,29.72,.418,.25,29.58,.413,.2,29.67,.412,.15,29.84,.415,.2,29.93,.417,.55,30.06,.416,.55,30.11,.419,.3,30.28,.413,.2,30.19,.412,.2,30.36,.41,.2,30.48,.411,.2,30.9,.419,.2,
28.88,.413,.7,28.61,.407,1.75,28.76,.411,.85,28.74,.405,.25,28.92,.409,.2,29.03,.407,.95,29.3,.405,.4,29.45,.402,.3,29.46,.396,1.7,29.59,.41,1.1,29.79,.408,1.6,29.92,.406,.2,30.1,.41,.3,30.6,.409,.1,30.53,.415,.4,30.84,.414,1.2,30.86,.408,.1,30.76,.408,.25,
28.48,.411,.2,28.61,.398,.15,28.47,.397,.2,28.75,.398,.3,29,.397,.25,29.08,.396,.25,29.18,.397,.2,29.32,.397,.35,29.66,.4,.25,29.71,.402,.3,29.78,.397,1.4,29.82,.399,.2,29.89,.396,.3,30.01,.397,.3,30.13,.393,.45,30.33,.399,.5,30.42,.397,.2,30.56,.4,.55,30.74,.4,.4,30.84,.396,.75,30.81,.402,1.75,
28.68,.392,1.25,28.59,.389,.35,29.33,.39,.45,29.46,.39,.75,29.56,.392,.4,28.87,.39,.4,29.03,.389,.3,30.53,.392,.2,30.7,.389,.3,30.76,.387,.25,30.08,.386,1.5,29.64,.387,.3,30.02,.39,.3,30.29,.387,.2,28.76,.384,.3,29.23,.385,.8,29.16,.384,.4,29.53,.384,.3,30.45,.381,.25,30.52,.384,.65,30.57,.384,.2,30.88,.385,.7,30.84,.388,1.4,
28.88,.382,1.25,28.89,.385,.3,29.03,.381,.55,28.99,.374,1.75,29.68,.379,.85,29.74,.384,.3,29.8,.381,.5,29.94,.384,.1,29.88,.379,.35,30.16,.379,.3,30.64,.38,.25,31.0,.376,.9,30.69,.378,1.75,30.85,.378,.3,
28.67,.378,.8,28.67,.376,.2,28.54,.374,.55,28.48,.37,.2,28.78,.372,.3,28.91,.373,.55,29.24,.371,.2,29.31,.371,.7,29.08,.369,.75,29.16,.378,.4,29.43,.374,.35,29.6,.375,.25,30.06,.375,1,30.26,.369,.3,30.34,.372,.2,30.69,.37,.6,30.81,.368,.85,
28.52,.362,1.95,28.62,.366,.35,28.77,.361,.35,28.93,.36,.35,28.45,.358,1.3,28.59,.356,.5,28.65,.353,.55,29.21,.362,.55,29.1,.358,.65,29.66,.36,.2,29.5,.36,.85,29.85,.364,1.7,29.78,.36,.4,30.1,.356,.8,30.16,.352,2,30.47,.358,1.6,30.52,.359,.25,30.34,.36,.3,30.68,.36,.25,30.76,.353,.3,30.95,.358,.7,
28.52,.349,.5,28.76,.347,.3,28.94,.349,.85,28.85,.347,.35,29.09,.351,.9,29.23,.347,.3,29.34,.353,.25,29.5,.353,.4,29.53,.349,.4,29.79,.35,.25,29.9,.351,1.35,29.97,.353,.65,30.22,.349,.5,30.3,.351,.75,30.64,.346,.35,30.71,.348,1.6,
28.74,.342,1.5,28.71,.348,.3,28.56,.346,.65,29.13,.344,.1,29,.342,.55,29.43,.344,.35,29.63,.344,.7,30.36,.343,.55,30.19,.343,.85,30.46,.342,.2,30.56,.342,.85,30.71,.338,1.3,30.8,.338,.55,
28.48,.337,.4,28.65,.34,.5,28.82,.338,.8,28.9,.334,.35,29.47,.333,.7,29.63,.335,.65,29.77,.338,.3,29.98,.333,.3,30.07,.336,1.4,30.14,.335,.35,30.33,.337,.3,30.51,.338,1.3,30.91,.333,.9,
28.93,.33,.55,28.93,.326,1.8,29.06,.331,.8,29.18,.33,.35,29.25,.329,1.95,29.34,.326,1.5,29.41,.324,.5,29.47,.324,.7,29.73,.331,1.3,29.8,.325,1.45,29.9,.325,.9,30.04,.326,.6,30.25,.332,.3,30.38,.331,.3,30.78,.33,1.05,30.78,.33,.45,30.6,.325,.4,30.59,.328,1.2,30.88,.326,.3,
28.54,.325,.9,28.64,.323,.35,28.6,.319,.35,28.8,.321,.25,29.01,.321,1.4,29.06,.323,.25,29.1,.319,.5,29.15,.319,1.1,29.28,.319,.85,29.64,.323,.15,29.6,.317,.85,29.77,.314,1.1,29.93,.318,.3,30.28,.317,.6,30.21,.318,.9,30.51,.32,.7,30.64,.314,.55,30.09,.313,.2,
28.94,.312,1.95,28.47,.311,1.7,28.7,.311,.55,29.65,.312,1.7,29.85,.312,.2,30.15,.311,.3,30.56,.308,1.45,30.63,.306,1.85,30.39,.305,.15,30.3,.308,.75,30.73,.304,.6,30.23,.304,1.5,30.86,.303,.2,
28.61,.306,2,28.73,.303,1.25,28.66,.311,.7,28.84,.306,.3,28.91,.303,.4,29.07,.31,.3,29.86,.31,1.35,29.93,.302,.3,29.8,.3,.2,30.04,.3,1.6,29.04,.302,.5,29.32,.3,1.95,29.36,.308,1.5,29.2,.302,.65,29.43,.306,.5,29.56,.306,.55,29.51,.305,.55,29.04,.307,.25,
28.6,.293,1.25,28.54,.287,.55,28.69,.298,.9,28.77,.288,1.65,28.89,.293,1.95,28.86,.284,.55,28.99,.296,.9,29.16,.292,.4,29.16,.284,.4,29.31,.295,.5,29.45,.296,.6,29.65,.295,.4,30.05,.296,1.35,30.18,.295,.75,30.84,.294,.2,30.88,.294,1.95,30.68,.293,.55,30.81,.29,.4,
28.65,.28,1.7,29.01,.278,.95,29.38,.287,.45,29.25,.278,.8,29.28,.282,.45,29.82,.284,.4,29.7,.279,.9,29.94,.282,.4,30.06,.278,1.05,30.13,.275,1.95,30.24,.279,.75,30.32,.287,.55,30.42,.286,1.95,30.49,.285,.75,30.55,.285,1.9,30.64,.285,.75,30.81,.28,.7,
28.51,.274,.4,28.61,.272,1.4,28.76,.277,1.25,28.74,.273,1.9,28.82,.273,1.9,28.96,.271,1.2,28.73,.267,.6,28.67,.271,.55,28.85,.265,1.9,29.11,.271,1.75,29.31,.269,.6,29.48,.272,.65,29.55,.274,.35,29.61,.272,1.8,29.43,.267,1.05,29.81,.271,.65,29.74,.267,1,29.9,.271,.6,29.95,.277,.5,30.08,.267,.95,30.16,.268,1,30.32,.274,2,30.43,.273,.95,30.51,.271,1.6,30.67,.28,.45,30.65,.274,1,30.75,.267,.6,30.94,.269,.8,
28.99,.264,.4,29.16,.267,1.2,29.57,.262,.3,29.91,.264,1.8,30.04,.262,1.5,30.3,.265,1.3,30.23,.261,.45,30.41,.258,1.8,30.62,.259,1.3,30.72,.267,1.95,30.94,.263,.8,
28.46,.262,1.95,28.57,.264,.8,29.23,.261,1.15,28.77,.258,.75,28.89,.258,1.4,29.4,.256,1.7,29.53,.257,1.55,29.74,.256,.7,29.83,.253,1.55,29.97,.254,.7,30.12,.256,1.95,30.4,.254,1.95,30.5,.254,1.1,30.58,.253,1.95,30.3,.25,.6,30.75,.252,.6,30.84,.257,1.75,
28.58,.255,.55,28.91,.251,.8,29.03,.255,1.95,29.18,.254,1.35,29.28,.25,1.9,29.65,.246,1.5,29.85,.249,1.3,28.51,.25,.75,28.63,.248,1.95,28.67,.248,.5,29.74,.242,2,29.11,.246,1.9,29.18,.247,.9,30.58,.247,1.5,30.37,.248,1.75,30.52,.247,.45,30.87,.25,1.75,
28.77,.242,1.25,28.83,.24,1.85,29.02,.243,1.9,29.4,.24,1.8,29.33,.24,1.85,29.53,.242,.9,29.62,.241,1.2,30.06,.238,1.25,30.14,.24,.85,30.34,.239,1.9,30.63,.243,1.35,30.92,.244,1.2,
28.53,.237,1.1,28.69,.238,.8,28.74,.235,1.5,28.92,.234,1.95,29.1,.235,.7,29.21,.232,.85,29.33,.232,1.4,29.54,.234,1.9,29.83,.236,.7,30.29,.233,.7,30.58,.236,2,30.86,.232,.45,29.92,.232,.85,28.84,.229,1.9,29.66,.229,1.9,29.99,.229,.6,30.45,.23,.7];

const midRight = [
30.94,.529,.15,31,.53,.4,31.13,.525,.15,31.2,.527,.15,31.28,.529,.2,31.39,.529,.15,31.51,.529,.3,31.67,.525,.15,31.78,.523,.15,31.88,.528,.2,32.07,.525,.4,32.16,.529,.2,32.29,.528,.75,32.32,.528,.5,32.64,.528,.2,32.49,.519,1.7,32.39,.518,.2,32.89,.516,.6,30.95,.513,.55,31.44,.515,.95,31.5,.508,1.95,31.55,.506,.7,31.6,.51,.15,31.24,.518,.2,31.17,.513,.05,31.32,.512,.02,31.25,.508,.5,31.06,.505,.25,31.7,.509,.15,31.76,.507,.2,31.86,.511,.15,32.04,.513,.3,32.15,.51,.1,32.08,.502,1.1,32.16,.505,.2,31.82,.495,1.75,32.27,.5,.55,32.62,.509,.5,32.57,.506,.25,32.92,.504,.15,31.53,.499,.05,31.15,.495,.2,31.04,.496,.02,31.39,.503,.2,31.75,.494,.2,31.91,.497,.1,31.85,.485,.1,32,.486,.75,32.12,.49,.35,32.28,.488,.4,32.54,.494,.1,32.57,.489,.15,32.72,.493,.2,32.67,.48,.35,32.79,.479,.02,31.27,.487,.2,31.46,.487,.3,31.19,.485,.2,31.36,.479,.2,31.2,.476,.15,31.28,.475,.3,31.67,.479,.85,31.61,.478,.02,31.61,.473,.2,31.77,.481,.1,31.95,.481,.05,32.08,.481,.1,32.16,.482,1.75,32.17,.48,.25,32.24,.483,.4,32.39,.478,.15,
30.95,.475,.4,31,.47,.5,31.03,.474,.3,31.07,.467,.2,31.46,.467,.2,31.41,.461,.2,31.27,.465,.25,31.22,.464,.1,31.88,.469,.1,31.83,.464,.2,31.96,.472,.2,32.06,.463,.6,31.97,.461,.5,32.13,.461,.02,32.15,.468,.35,32.2,.464,.15,32.26,.463,1.1,32.26,.47,.2,32.39,.465,.1,32.87,.456,.15,31.89,.458,.3,31.77,.452,.2,31.78,.454,.35,31.62,.45,.35,31.69,.449,.2,31.07,.459,.25,30.95,.457,.3,31.19,.458,.05,31.14,.455,.05,32.27,.446,1.45,32.3,.443,.5,31.99,.452,.25,32.07,.449,.2,32.03,.446,.1,32.11,.443,1.5,32.41,.448,.2,32.26,.442,.45,31.34,.447,.15,31.25,.447,.15,31.21,.444,.2,31.16,.441,.2,
31,.452,.75,31.02,.445,.7,31.05,.448,.2,31.81,.445,.25,31.91,.439,.25,31.55,.437,.95,31.63,.439,.6,31.49,.435,.7,31.76,.437,.25,32.42,.437,.25,32.96,.435,.4,31.21,.437,1.95,31.11,.437,.5,30.99,.433,.35,31.03,.43,.2,32.16,.43,.25,32.29,.431,.15,32.49,.433,.1,31.14,.431,.3,31.31,.432,.3,31.36,.429,.35,31.32,.427,.15,31.21,.423,.2,31.63,.431,.2,31,.425,2,30.94,.428,.15,31.49,.425,.65,31.45,.421,1.3,31.71,.424,.25,31.93,.425,.25,32.26,.422,.5,32.42,.424,.5,31.09,.419,1.55,31.03,.416,1.4,31,.42,.2,31.1,.418,.4,31.58,.417,.3,31.56,.414,.3,31.47,.415,.25,31.35,.414,.4,31.95,.419,.35,32.82,.417,.25,31.18,.41,.75,31.25,.406,.6,31.34,.41,.8,31.42,.41,.15,31.9,.41,.7,31.96,.408,.2,32.21,.408,.3,32.31,.407,.2,32.63,.408,.25,31.52,.404,1.1,31.53,.404,1.1,31.68,.405,.3,31.76,.402,1.25,32.49,.403,1.45,32.55,.401,.15,31.1,.401,1.75,31.14,.4,.6,30.96,.396,.35,31.34,.399,.2,31.97,.4,.3,
31.13,.388,2,32.63,.392,1.7,32.21,.392,1,32.84,.389,.45,32.85,.381,.3,31.39,.392,.6,31.4,.385,.65,31.45,.384,.25,31.57,.391,.2,31.76,.397,.25,31.84,.394,.2,31.75,.388,.3,32.04,.392,.05,31.02,.388,.9,31.03,.384,.4,31.23,.384,.3,31.51,.386,.75,31.89,.385,.4,31.83,.379,.7,32,.379,.85,32.07,.383,.3,32.18,.382,.2,32.39,.379,.3,32.34,.376,1,30.93,.38,.95,31.07,.38,1.4,30.98,.375,.4,31.09,.371,1.3,31.13,.371,.2,31.35,.37,.2,31.29,.366,1.1,31.47,.368,.25,31.52,.374,.2,32.1,.374,.85,31.71,.366,1.15,31.75,.368,.5,31.93,.365,1.25,31.93,.359,2,32.26,.366,.3,32.32,.366,.3,
31.41,.362,.6,30.92,.364,.4,32.58,.359,.35,32.02,.357,.15,32.14,.36,.4,32.08,.355,.5,32.1,.358,.4,31.16,.358,.2,31.21,.356,.1,30.93,.357,.8,31.03,.358,.5,31.93,.354,.2,32.21,.357,.75,32.25,.355,.35,32.24,.349,.75,31.42,.353,.25,31.16,.35,.2,31.29,.35,.35,31.62,.348,1.75,31.81,.348,.7,32.33,.345,.2,32.46,.342,.2,32.49,.34,.9,31.49,.345,.3,31.35,.344,.85,31.21,.345,.55,31.05,.344,.7,31.18,.339,1.05,31.3,.331,1.95,31.49,.332,1.65,31.54,.339,1.25,31.59,.338,.5,31.63,.334,.75,31.45,.336,1,31.25,.333,1.4,31.39,.331,.2,31.75,.338,.3,31.77,.331,.2,32.1,.342,.3,32.03,.337,.35,32.02,.33,2,32.1,.333,.3,32.18,.329,.15,32.78,.329,.3,31.02,.337,.7,30.91,.333,.95,31.01,.328,.4,
31.14,.326,.4,31.23,.328,.45,31.37,.324,.5,31.59,.326,.3,31.65,.325,1.7,31.88,.325,1.35,31.65,.322,.75,31.78,.319,.9,32.07,.323,.55,32.1,.323,.9,32.4,.325,1.35,32.46,.325,.5,32.13,.32,.2,32.06,.318,.75,32.33,.317,.2,32.25,.311,1.75,32.32,.311,.2,32.57,.311,.4,31.29,.318,1.7,31.1,.315,.5,31.05,.314,.25,31.14,.312,.55,31.22,.316,.5,30.91,.312,1.95,31.47,.314,1.8,31.52,.315,.7,31.56,.308,1.05,31.52,.303,1,31.68,.31,1.45,31.72,.31,.4,31.84,.307,1.7,31.63,.307,.8,31.97,.308,.8,30.94,.302,.3,31.23,.305,.55,31.37,.304,.6,31.3,.301,.7,32.53,.298,1.45,32.07,.296,.7,32.14,.296,.7,31.9,.299,.7,31.15,.294,.75,31,.293,1,31.55,.293,.95,31.68,.289,1.3,31.27,.29,.45,31.32,.29,.3,31.8,.287,.4,31.84,.289,.35,31.88,.287,1.25,31.4,.287,1.25,31.93,.282,.4,32.06,.284,.4,32.08,.28,.6,31.76,.279,.7,31.29,.283,.4,31.53,.283,.7,31.45,.278,.5,30.98,.278,.05,30.88,.279,.6,31.99,.275,.3,32.16,.274,.8,32.31,.274,.25,32.54,.279,.45,32.51,.273,.3,32.13,.279,.25,31.48,.277,2,31.52,.278,1.9,31.22,.279,.65,31.16,.28,1.65,31.07,.275,1.7,31.12,.273,.6,31.21,.27,1.95,31.61,.274,1.2,31.35,.276,.35,31.42,.278,.55,30.9,.269,.9,31.01,.268,.9,31.76,.271,1.95,31.77,.267,1.2,31.68,.269,.85,31.87,.268,1.8,31.97,.269,1,32.35,.267,.9,32.78,.273,.85,32.78,.268,1.15,32.72,.263,1.95,32.77,.256,1.75,32.87,.256,.4,
31.1,.267,1.45,31.13,.263,1.95,31.21,.263,.8,31.28,.258,1.75,31.02,.26,.7,31.39,.263,1.95,31.47,.267,2,31.34,.267,.7,31.35,.26,1.05,31.56,.261,1.95,31.58,.252,1.95,31.53,.257,1.3,31.66,.263,1,31.7,.26,.6,31.72,.262,2,32.09,.26,.55,32.03,.257,.8,32.21,.259,1.75,31.78,.256,1.45,31.73,.26,.8,31.89,.252,.85,32.53,.263,1.75,
31.13,.252,.7,30.94,.26,1.1,30.97,.252,.6,30.88,.252,1.95,32,.248,.8,32.09,.245,1.4,32.21,.248,.85,32.32,.246,1.5,32.37,.247,.35,32.47,.248,.7,32.47,.239,1.75,32.86,.24,1.55,32.84,.237,1.1,32.25,.239,1.25,32.2,.242,.7,32.3,.235,1.75,32.56,.229,2,31.2,.245,1.9,31.18,.24,1.85,31.28,.241,1.95,31.09,.24,.7,30.97,.245,.9,31.41,.244,1.2,31.51,.245,2,31.68,.246,.7,31.74,.24,2,31.91,.239,1.2,31.85,.235,.9,31.36,.236,1.2,31.11,.233,1.2,31.52,.232,1.95,31.56,.229,2,31.62,.236,1.55,31.69,.234,1.3,31.72,.231,1.7,32.03,.232,.85,31.98,.235,.75,31.89,.229,2,31.2,.228,.6,31.3,.229,.85,31.44,.229,.5,30.99,.232,2,30.93,.231,1.9,30.88,.23,.55];

const topLeft = [
26.52,.79,1.1,26.72,.779,.85,26.81,.764,.3,27.08,.795,.4,27.2,.781,.9,27.27,.774,.45,27.45,.787,1.1,27.55,.769,.55,27.74,.773,.3,27.73,.769,.35,27.78,.762,.8,27.45,.755,.35,27.75,.796,.75,27.98,.792,1.25,27.99,.787,.3,28.18,.789,.4,27.97,.773,.5,28.1,.773,1,27.99,.76,.75,28.19,.757,.6,27.945,.748,.45,28.29,.79,.7,28.28,.79,.3,28.29,.776,.3,28.31,.772,.45,28.27,.766,.85,28.26,.765,.4,28.42,.771,.9,28.4,.752,.75,28.385,.748,.8,28.33,.743,.5,26.8,.738,.45,26.755,.73,.7,26.48,.719,.2,27.25,.742,.2,27.29,.734,.3,27.08,.727,.55,27.17,.728,1.1,27.475,.729,.8,27.435,.73,.4,27.6,.731,1.25,27.605,.735,.25,27.225,.714,.9,27.33,.716,1.1,27.36,.716,.7,27.385,.716,.45,27.855,.717,.75,27.68,.708,.2,27.695,.698,.3,27.965,.701,.5,28.155,.702,1,28.3,.709,.9,28.27,.7,.3,28.175,.737,1.2,28.04,.736,.7,28.03,.731,.35,28.07,.729,.4,28.115,.733,.9,28.21,.724,.35,28.31,.731,.3,
26.79,.69,.25,26.89,.687,.4,26.87,.681,.4,26.93,.676,.45,26.88,.669,.5,26.92,.672,.25,27.05,.674,.2,27.055,.67,.25,27.21,.676,.45,27.52,.693,.35,27.635,.688,.3,27.62,.695,.5,27.56,.675,.15,27.835,.68,.3,27.88,.687,.25,27.9,.69,.2,28.07,.69,.2,28.105,.695,.35,28,.683,.15,27.97,.675,.2,28.02,.674,.2,28.355,.693,.3,28.43,.689,.3,27.925,.664,1.35,27.87,.668,.25,27.87,.665,.3,28.01,.662,.9,28.02,.656,.35,27.715,.668,.4,27.73,.669,.2,27.635,.664,.3,27.6,.658,.3,27.615,.655,.3,27.31,.656,.5,28.11,.665,.35,28.145,.654,.35,27.105,.647,.1,27.525,.646,.35,27.65,.644,.25,27.69,.648,.5,27.79,.642,.1,27.65,.638,.55,27.14,.636,.4,27.31,.634,.25,26.96,.632,.95,27.91,.633,.7,27.91,.63,.45,28.065,.643,.4,28.155,.647,.3,28.25,.648,.3,28.21,.647,.5,28.37,.645,1.2,28.385,.639,1.35,28.235,.636,.35,26.86,.626,.2,27.64,.628,.35,27.525,.627,.25,27.49,.627,.15,28.01,.627,.25,28.11,.629,.3,27.14,.622,.3,27.42,.622,.3,27.4,.616,.3,26.8,.616,.3,27.23,.616,.6,27.38,.611,.9,27.545,.611,.45,27.57,.615,.9,27.75,.622,.55,27.76,.62,.3,27.76,.609,.65,27.93,.614,.5,27.86,.606,.2,27.91,.608,.25,28.03,.604,.1,26.94,.611,.25,26.99,.609,.5,26.465,.602,.5,27.505,.602,1,27.57,.597,.25,27.65,.597,.25,27.65,.59,.2,27.79,.599,.25,27.96,.599,.45,28.07,.601,.2,28.19,.605,.2,28.18,.597,.25,28.14,.61,.5,28.2,.614,.2,28.19,.621,.25,28.14,.62,.55,28.29,.595,1.1,28.33,.596,.4,26.93,.595,.2,26.93,.589,.35,27.31,.594,.15,27.4,.589,.15,27.44,.592,.2,27.45,.585,.2,27.74,.588,.55,27.82,.589,.8,27.72,.583,.3,27.78,.577,.9,27.93,.589,.2,27.91,.585,.3,28.01,.586,.2,28.11,.584,.2,28.14,.586,.2,28.1,.578,.9,26.76,.578,.15,26.94,.57,.35,26.79,.566,.55,27.08,.574,.25,27.17,.575,.3,27.21,.578,.3,27.51,.573,.15,27.46,.567,.45,27.64,.569,.2,27.9,.572,.35,27.98,.573,.3,27.95,.578,.4,28.08,.569,.35,28.12,.566,.2,28.17,.578,.15,28.24,.576,.2,28.3,.57,1,28.34,.58,.4,28.39,.576,.3,
26.69,.56,.8,26.59,.554,.25,26.6,.548,.75,27,.558,.15,27.04,.559,.15,27.16,.562,.35,27.09,.555,.35,27.04,.551,.4,27.2,.55,.4,27.28,.561,.2,27.29,.558,.15,27.35,.55,.75,27.41,.552,.1,27.64,.558,.2,27.62,.55,.3,27.62,.544,.75,27.72,.547,.2,27.76,.56,.15,27.82,.565,.2,27.82,.559,.2,27.85,.555,.15,27.94,.56,.25,28.08,.554,.4,28.22,.55,.15,28.29,.55,.4,28.37,.552,.2,28.38,.563,.35,28.21,.54,.2,28.33,.537,.75,26.73,.537,.3,26.94,.536,.15,27.01,.54,.2,27.06,.538,.7];

const topMid = [
28.53,.787,.3,28.57,.795,.5,28.62,.783,.7,28.65,.782,1.45,28.71,.784,.4,28.76,.79,1.25,28.87,.792,.6,29,.795,.3,28.48,.776,.3,28.52,.766,.95,28.49,.761,.4,28.65,.765,.8,28.75,.76,.5,28.76,.766,.8,28.89,.768,.2,28.86,.755,.4,29,.763,.4,29.21,.785,.4,29.29,.794,.8,29.23,.798,.9,29.34,.798,.7,29.38,.793,.25,29.44,.793,1,29.52,.79,.45,29.57,.791,.4,29.66,.788,.3,29.27,.774,.25,29.22,.765,.7,29.38,.76,.8,29.53,.774,1.65,29.51,.767,.35,29.53,.77,.7,29.585,.766,.7,29.67,.757,.3,29.82,.779,.8,29.83,.775,.7,30.04,.777,.85,30,.796,.8,29.98,.798,.3,30.14,.778,.25,30.18,.781,.3,30.23,.787,.2,30.29,.795,.85,30.37,.798,.3,30.51,.789,.45,30.57,.792,.7,30.66,.8,1.65,30.47,.78,.6,30.57,.781,.2,30.63,.776,.3,30.77,.781,.25,29.88,.757,.4,29.925,.762,.4,29.99,.752,.7,30.05,.763,.25,30.25,.757,.85,30.29,.753,.25,30.33,.753,.7,30.39,.765,.4,30.5,.764,.4,30.72,.769,.3,30.76,.769,.35,30.8,.768,.4,30.75,.755,.9,30.78,.753,1.1,30.65,.75,1.4,30.61,.748,.4,30.665,.741,.5,28.62,.75,.4,28.58,.742,.3,28.63,.736,.55,28.75,.739,.3,28.79,.739,.3,29.08,.746,.5,29.32,.747,.4,30.07,.744,.3,30.07,.735,.55,30.03,.733,.25,30.2,.733,.3,30.47,.739,.35,30.76,.734,.3,30.81,.731,.2,28.53,.725,.8,28.7,.73,.4,28.79,.728,.6,28.7,.721,.8,28.67,.723,.3,28.645,.716,.4,28.985,.728,.85,29.21,.729,.35,29.2,.718,.4,29.135,.711,1.2,29.07,.709,.5,29.02,.709,.25,29.41,.727,.25,29.4,.724,.5,29.51,.722,.15,29.55,.712,.3,29.67,.731,.3,29.65,.728,.3,29.75,.73,.8,29.77,.722,.2,29.84,.722,.15,30.19,.723,.9,30.35,.726,.55,30.52,.728,.3,30.49,.723,.3,30.75,.722,.25,30.79,.716,.25,30.62,.716,.4,30.62,.709,.3,30.28,.706,.95,30.78,.703,.85,
28.63,.701,.45,28.88,.699,.4,28.92,.697,.25,28.75,.693,.3,28.46,.689,.3,28.55,.683,.35,28.72,.684,.35,28.75,.678,.25,28.83,.677,.15,28.87,.678,.3,29.01,.691,.75,28.96,.685,.25,29,.676,.35,29,.667,.85,28.98,.663,.2,29.09,.702,.15,29.33,.698,1.25,29.22,.693,.2,29.28,.687,.3,29.39,.687,.25,29.3,.673,.4,29.37,.671,.45,29.33,.682,.2,29.56,.682,.3,29.69,.682,.3,29.66,.69,.85,29.72,.705,.85,29.76,.695,1,29.76,.7,.25,29.65,.701,.4,29.9,.7,.4,29.89,.69,.3,29.98,.705,.5,30,.698,.75,29.8,.679,.25,29.84,.679,.8,29.93,.679,.9,29.98,.675,.3,29.92,.673,.3,29.97,.664,.85,29.6,.671,.45,30.3,.69,1.1,30.36,.686,.3,30.42,.696,.25,30.17,.684,.3,30.13,.679,.3,30.18,.675,.3,30.67,.691,.3,30.74,.697,.2,30.84,.68,.3,30.68,.674,.55,30.21,.668,.7,30.24,.667,1,30.55,.669,.5,30.38,.664,.2,30.49,.66,.6,30.45,.656,.45,30.51,.655,1.45,28.77,.665,.3,28.82,.668,.5,28.89,.666,.2,28.92,.653,.2,29.17,.668,.4,29.14,.661,.3,29.06,.658,.55,29.18,.657,.2,29.26,.662,.4,29.35,.667,.2,29.31,.655,.35,29.54,.663,.8,29.5,.66,.2,29.49,.651,.4,29.58,.652,.7,29.61,.652,.3,29.58,.647,.3,29.81,.657,.45,30.06,.655,.4,30.13,.656,.2,30,.651,.3,30.84,.662,.25,30.93,.664,.3,30.84,.656,.2,30.62,.649,.25,30.65,.65,.8,30.75,.647,.3,30.75,.651,1.2,30.85,.649,.45,30.9,.648,.3,
28.7,.65,.25,28.73,.647,.2,28.54,.645,.55,28.55,.641,.25,28.53,.638,.4,28.91,.649,.25,28.94,.647,.4,29.01,.65,.6,29.06,.646,.55,28.96,.642,.2,28.95,.639,.3,29.21,.645,.5,29.14,.64,.25,29.26,.639,.3,29.36,.64,.25,29.565,.638,.95,29.66,.641,.3,29.825,.636,2,29.93,.641,.35,30,.642,.2,30.11,.637,.35,30.22,.645,.5,30.28,.648,.3,30.34,.645,.5,30.2,.629,.35,30.47,.632,.25,30.51,.629,.5,30.58,.629,.3,30.68,.632,.3,30.73,.633,.9,30.76,.632,.2,30.85,.632,.3,28.61,.629,1.7,28.55,.624,.3,28.59,.621,.1,28.99,.633,.4,29,.625,.25,29.1,.623,.25,29.2,.628,.5,29.27,.628,.3,29.39,.628,.3,29.92,.627,.3,29.5,.624,1.1,29.5,.621,1.3,29.48,.618,.4,29.51,.615,.25,29.73,.62,.4,29.73,.622,.3,30.2,.618,.6,30.26,.617,.3,30.31,.617,.9,30.35,.613,1,30.84,.624,.55,30.82,.619,.25,30.84,.619,.2,28.91,.62,.2,28.88,.611,.45,28.82,.607,.3,28.54,.606,.3,28.45,.606,.25,29.03,.615,.3,29.13,.614,.25,29.23,.617,1.1,29.25,.608,1.7,29.31,.612,.4,29.43,.614,.3,29.5,.606,.7,29.61,.609,.25,29.68,.611,.25,29.75,.612,.3,29.84,.613,.55,30.2,.611,.3,30.1,.603,.4,29.96,.603,.2,30.05,.603,.15,30.29,.601,.75,30.46,.605,.3,30.58,.603,.15,30.7,.611,.2,30.7,.607,.85,
29.07,.6,.25,29.03,.597,.4,29.07,.591,.2,29.4,.602,.2,29.5,.598,.3,29.52,.597,.7,29.28,.591,1.75,29.33,.588,.85,29.2,.587,.65,29.19,.596,.5,28.75,.595,.3,28.8,.595,.2,28.98,.592,.2,29.72,.595,.25,29.78,.587,.25,29.89,.591,.4,29.93,.59,.25,30.05,.588,1.9,30.08,.583,.1,30.13,.589,.65,30.19,.591,.2,30.27,.59,.2,30.38,.593,.3,30.44,.597,.7,30.53,.591,.3,30.62,.594,.3,30.84,.593,.3,30.68,.6,.3,30.37,.585,.5,30.65,.582,.6,30.72,.585,.35,30.75,.581,.3,
28.54,.593,.6,28.53,.588,.2,28.61,.581,.5,28.69,.578,1,28.72,.575,.1,28.56,.574,.3,28.82,.578,.2,28.92,.577,.35,29,.578,.2,28.91,.572,.3,28.79,.569,.1,29.14,.578,.5,29.31,.58,.1,29.39,.581,.3,29.47,.578,.75,29.48,.569,.55,29.35,.571,.3,29.23,.572,1.3,29.645,.575,1.75,29.78,.576,.3,29.91,.578,.25,29.98,.575,.4,30.19,.578,.1,30.1,.571,.5,30.32,.574,.3,30.4,.578,.2,30.48,.575,.4,30.67,.574,.4,30.59,.569,.45,30.86,.578,.35,30.79,.572,.25,28.47,.566,.3,28.48,.559,.25,28.55,.56,.4,28.92,.565,.3,29.02,.567,.8,29.03,.56,.95,29.71,.565,.25,29.58,.567,.15,29.98,.566,.1,30.02,.565,.4,29.91,.558,.3,30.12,.562,.3,30.22,.565,.25,30.21,.559,.25,30.34,.564,.3,30.3,.557,.9,30.41,.555,.3,30.49,.556,.2,30.58,.558,1.5,30.75,.559,.35,30.7,.559,.2,29.1,.557,.3,29.16,.556,.3,29.23,.557,.25,29.47,.559,.35,29.4,.556,.2,28.66,.556,.2,28.74,.551,.55,28.81,.554,.55,28.91,.549,.2,28.97,.553,.3,29.33,.549,.6,29.5,.551,.1,29.79,.551,.55,29.86,.552,.15,30.02,.555,.25,29.96,.552,.5,29.68,.542,.05,30.83,.547,.25,30.57,.547,.5,30.65,.544,.2,30.36,.544,.5,30.45,.548,.4,30.89,.54,.75,28.5,.542,.75,28.54,.539,.3,28.75,.537,1.2,28.97,.541,.3,29.3,.544,1.1,29.28,.54,.4,29.56,.54,.45,30.02,.538,.4,30.17,.539,.4];

const topRight = [
30.94,.787,.3,30.97,.782,.05,31.12,.792,.2,31.14,.79,.2,31.07,.784,.25,31.05,.772,.95,31.05,.774,.75,31.21,.774,.5,31.21,.795,.65,31.37,.785,.4,31.41,.784,.2,31.65,.791,.2,31.69,.797,.45,31.68,.779,.7,31.82,.782,.9,31.89,.778,.3,32.26,.796,.65,32.34,.768,.25,31.72,.762,.25,30.95,.754,.3,30.95,.759,.6,32.13,.755,.65,32.56,.751,.2,32.56,.745,.25,31.9,.749,.7,31.4,.745,.45,31.2,.742,.3,31.11,.737,.4,31.15,.737,.4,31.37,.735,.95,31.48,.733,.8,31.66,.743,.3,31.87,.737,.3,31.86,.735,1.95,31.84,.732,.3,31.71,.725,.85,31.75,.725,.45,31.92,.723,.2,31.69,.717,.25,32.11,.73,.4,32.27,.734,.3,32.19,.72,1.8,32.62,.722,.4,32.44,.709,.3,31.33,.72,1.05,31.34,.712,.25,31,.717,.7,31.12,.71,.5,31.32,.706,1.3,31.25,.707,.35,31.39,.707,.45,31.53,.704,.4,30.98,.705,.45,31.03,.706,.4,31,.702,.2,31.92,.706,.45,31.26,.697,.15,31.05,.694,.5,31.29,.691,.3,31.65,.698,.3,31.73,.697,.3,31.76,.697,1.1,31.63,.693,.8,31.58,.687,.7,31.56,.681,1.05,31.68,.685,.35,31.83,.683,.35,31.82,.682,.4,32.19,.687,.2,32.02,.677,.4,31.42,.682,.45,31.5,.676,.5,31.28,.678,.6,30.94,.685,.3,31,.687,.3,30.9,.682,.35,31,.674,.2,30.95,.672,.4,31.78,.674,.15,31.77,.667,.2,32.32,.666,.8,31.13,.665,.25,31.22,.665,.35,31.48,.662,.5,31,.662,.3,30.88,.664,.45,31.7,.658,.3,31.69,.656,.2,31.84,.651,.35,31.85,.652,.3,30.94,.652,.2,30.91,.647,.1,30.94,.643,1.1,32.11,.645,1.25,32.25,.648,.3,32.3,.638,.55,31.99,.636,.15,31.17,.648,.2,31.15,.645,.25,31.35,.647,.3,31.34,.642,.2,31.29,.64,.25,31.41,.633,.3,31,.63,.3,31.17,.626,1.2,31.18,.626,.25,31.1,.624,.2,31.07,.616,.65,31.8,.625,.6,32.63,.63,.15,31.5,.619,.2,31.63,.616,.3,30.94,.611,.05,31.03,.605,.3,31.13,.606,.2,31.24,.607,.45,31.88,.606,.6,32.32,.604,.7,33.03,.61,.6,31.18,.597,.75,31.23,.599,.5,31.3,.599,.3,31.13,.594,.1,30.9,.598,.2,32.06,.6,.15,32.06,.59,.15,31.99,.586,.2,32.16,.59,.25,32.73,.595,.3,31.47,.586,.25,31.53,.578,.75,31.36,.578,.85,31.73,.579,.15,31.01,.571,.4,31.14,.567,.35,31.2,.566,.15,31.28,.563,.3,31.34,.555,.2,31.44,.556,.3,31.81,.56,.3,31.69,.555,.1,31.87,.552,2,32.03,.564,.25,32.03,.561,.8,32.7,.566,.2,32.46,.555,.25,32.61,.553,.15,32.39,.547,.15,32.355,.542,.55,31.06,.557,.25,30.98,.562,.3,30.96,.555,.85,31.31,.55,.1,31.28,.545,.25,31.49,.544,.1,31.61,.54,.4,31.7,.543,.1,31.79,.541,.45,31,.541,.6,31.16,.537,.4,30.93,.55,.2];

const bands = [];
bandY.forEach((y, r) => {
    bandX[r].forEach(x => bands.push(x, y, 2));
});
fillY.forEach((y, r) => {
    fillX[r].forEach(x => bands.push(x, y, 2));
});

const points = [];
[bands, bandEdge, bandAccents, lowerMid, midLeft, midMid, midRight, topLeft, topMid, topRight].forEach(list => {
    for (let i = 0; i < list.length; i += 3) {
        points.push({ x: list[i] / 1000, y: list[i + 1], eps: list[i + 2] });
    }
});

function hexToRgb(h) {
    return [1, 3, 5].map(i => parseInt(h.slice(i, i + 2), 16));
}

function epsColor(v) {
    const t = Math.min(Math.max(v / 2, 0), 1) * (ylOrRd.length - 1);
    const i = Math.min(Math.floor(t), ylOrRd.length - 2);
    const a = hexToRgb(ylOrRd[i]), b = hexToRgb(ylOrRd[i + 1]);
    const f = t - i;
    return `rgb(${a.map((c, k) => Math.round(c + (b[k] - c) * f)).join(',')})`;
}

// mathtext style label, runs are drawn one after another
function drawRuns(ctx, runs, cx, cy, rotate) {
    const size = 89;
    ctx.save();
    ctx.translate(cx, cy);
    if (rotate) ctx.rotate(-Math.PI / 2);
    ctx.fillStyle = '#000';
    ctx.textBaseline = 'alphabetic';
    ctx.textAlign = 'left';
    let w = 0;
    runs.forEach(r => {
        ctx.font = `${r.i ? 'italic ' : ''}${size * (r.s || 1)}px "DejaVu Sans"`;
        r.w = ctx.measureText(r.t).width + (r.gap || 0);
        if (!r.stack) w += r.w;
    });
    let x = -w / 2;
    runs.forEach(r => {
        ctx.font = `${r.i ? 'italic ' : ''}${size * (r.s || 1)}px "DejaVu Sans"`;
        ctx.fillText(r.t, x, (r.dy || 0) * size);
        if (!r.stack) x += r.w;
    });
    ctx.restore();
}

const yLabelRuns = [
    { t: 'sin', gap: 2 }, { t: '2', s: 0.7, dy: -0.42, gap: 5 }, { t: 'θ', i: 1 }, { t: '23', s: 0.7, dy: 0.14 }
];
const xLabelRuns = [
    { t: 'Δ' }, { t: 'm', i: 1 }, { t: '2', s: 0.7, dy: -0.42, stack: 1 }, { t: '21', s: 0.7, dy: 0.24 }, { t: '/' },
    { t: 'Δ' }, { t: 'm', i: 1 }, { t: '2', s: 0.7, dy: -0.42, stack: 1 }, { t: '31', s: 0.7, dy: 0.24 }
];
const cbLabelRuns = [{ t: '|' }, { t: 'ε', i: 1 }, { t: "'", s: 0.75, dy: -0.18 }, { t: '|' }];

function minorsOf(ticks, n) {
    const out = [];
    const step = (ticks[1] - ticks[0]) / n;
    for (let v = ticks[0] - step * n; v < ticks[ticks.length - 1] + step * n; v += step) out.push(v);
    return out;
}

const frame = {
    id: 'frame',
    afterDatasetsDraw(chart) {
        const { ctx, chartArea: a, scales } = chart;
        const sx = scales.x, sy = scales.y, sc = scales.cb;

        // dotted grid on top of the points
        ctx.save();
        ctx.beginPath();
        ctx.rect(a.left, a.top, a.width, a.height);
        ctx.clip();
        ctx.strokeStyle = 'rgba(128,128,128,0.3)';
        ctx.lineWidth = 11;
        ctx.setLineDash([11, 18.15]);
        yTicks.forEach(v => {
            const p = sy.getPixelForValue(v);
            ctx.beginPath(); ctx.moveTo(a.left, p); ctx.lineTo(a.right, p); ctx.stroke();
        });
        xTicks.forEach(v => {
            const p = sx.getPixelForValue(v);
            ctx.beginPath(); ctx.moveTo(p, a.bottom); ctx.lineTo(p, a.top); ctx.stroke();
        });
        ctx.restore();

        // inward ticks on all four sides
        ctx.save();
        ctx.strokeStyle = '#000';
        const tick = (x1, y1, x2, y2) => { ctx.beginPath(); ctx.moveTo(x1, y1); ctx.lineTo(x2, y2); ctx.stroke(); };
        ctx.lineWidth = 4.4;
        minorsOf(xTicks, 5).forEach(v => {
            const p = sx.getPixelForValue(v);
            if (p < a.left || p > a.right) return;
            tick(p, a.bottom, p, a.bottom - 21);
            tick(p, a.top, p, a.top + 21);
        });
        minorsOf(yTicks, 5).forEach(v => {
            const p = sy.getPixelForValue(v);
            if (p < a.top - 1 || p > a.bottom + 1) return;
            tick(a.left, p, a.left + 22, p);
            tick(a.right, p, a.right - 22, p);
        });
        ctx.lineWidth = 6;
        xTicks.forEach(v => {
            const p = sx.getPixelForValue(v);
            tick(p, a.bottom, p, a.bottom - 54);
            tick(p, a.top, p, a.top + 54);
        });
        yTicks.forEach(v => {
            const p = sy.getPixelForValue(v);
            tick(a.left, p, a.left + 56, p);
            tick(a.right, p, a.right - 56, p);
        });

        // spines
        ctx.lineWidth = 4.8;
        ctx.strokeRect(a.left, a.top, a.width, a.height);

        // colorbar
        const cbLeft = 2686.5, cbRight = 2776;
        const grad = ctx.createLinearGradient(0, sc.getPixelForValue(0), 0, sc.getPixelForValue(2));
        ylOrRd.forEach((c, i) => grad.addColorStop(i / (ylOrRd.length - 1), c));
        ctx.fillStyle = grad;
        ctx.fillRect(cbLeft, a.top, cbRight - cbLeft, a.height);
        ctx.strokeRect(cbLeft, a.top, cbRight - cbLeft, a.height);
        ctx.lineWidth = 4.4;
        cbTicks.forEach(v => {
            const p = sc.getPixelForValue(v);
            tick(cbRight, p, cbRight + 20, p);
        });
        ctx.restore();

        drawRuns(ctx, yLabelRuns, 118, 1052, true);
        drawRuns(ctx, xLabelRuns, 1431, 2173, false);
        drawRuns(ctx, cbLabelRuns, 3105, 1062, true);
    }
};

// big tick paddings must not leak into the layout
const noScalePadding = s => { s.paddingTop = 0; s.paddingBottom = 0; s.paddingLeft = 0; s.paddingRight = 0; };

new Chart(document.getElementById('scatter'), {
    type: 'scatter',
    data: {
        datasets: [{
            data: points,
            backgroundColor: points.map(p => epsColor(p.eps)),
            borderWidth: 0,
            pointRadius: 13.6,
            clip: 0
        }]
    },
    options: {
        responsive: false,
        animation: false,
        layout: { padding: 0, autoPadding: false },
        events: [],
        plugins: {
            legend: { display: false },
            tooltip: { enabled: false },
            title: {
                display: true,
                text: 'NH',
                color: '#000',
                fullSize: false,
                font: { family: '"DejaVu Serif"', size: 106, weight: 'normal', lineHeight: 1 },
                padding: { top: 39, bottom: 12 }
            }
        },
        scales: {
            x: {
                type: 'linear',
                min: xRange[0],
                max: xRange[1],
                grid: { display: false },
                border: { display: false },
                afterBuildTicks: s => { s.ticks = xTicks.map(v => ({ value: v })); },
                afterFit: s => { s.height = 273.5; noScalePadding(s); },
                ticks: {
                    color: '#000',
                    maxRotation: 0,
                    autoSkip: false,
                    padding: 10,
                    font: { family: '"DejaVu Sans"', size: 83.33 },
                    callback: v => v.toFixed(3)
                }
            },
            y: {
                type: 'linear',
                min: yRange[0],
                max: yRange[1],
                grid: { display: false },
                border: { display: false },
                afterBuildTicks: s => { s.ticks = yTicks.map(v => ({ value: v })); },
                afterFit: s => { s.width = 314.5; noScalePadding(s); },
                ticks: {
                    color: '#000',
                    autoSkip: false,
                    padding: 8,
                    labelOffset: 7,
                    font: { family: '"DejaVu Sans"', size: 83.33 },
                    callback: v => v.toFixed(1)
                }
            },
            cb: {
                type: 'linear',
                axis: 'y',
                position: 'right',
                min: 0,
                max: 2,
                grid: { display: false },
                border: { display: false },
                afterBuildTicks: s => { s.ticks = cbTicks.map(v => ({ value: v })); },
                afterFit: s => { s.width = 623; noScalePadding(s); },
                ticks: {
                    color: '#000',
                    autoSkip: false,
                    padding: 263,
                    labelOffset: 7,
                    font: { family: '"DejaVu Sans"', size: 85 },
                    callback: v => v.toFixed(2)
                }
            }
        }
    },
    plugins: [frame]
});
</script>
</body>
</html>
